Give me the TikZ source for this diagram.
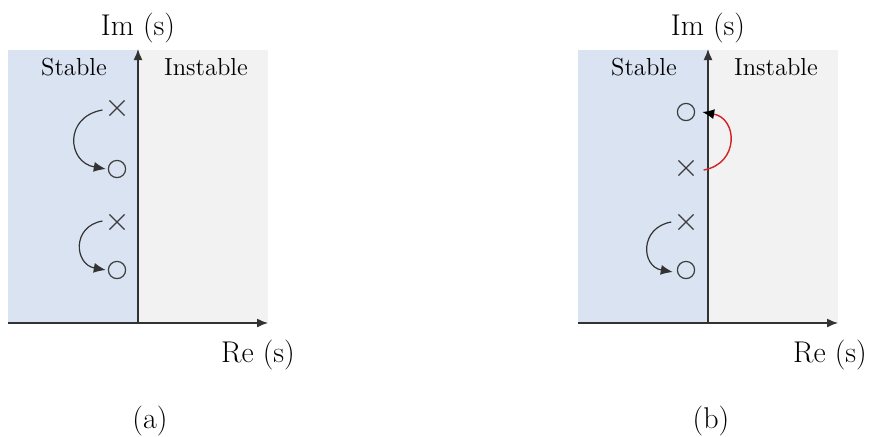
\documentclass[tikz,border=0pt]{standalone}
\usetikzlibrary{arrows.meta,shapes.misc}
\definecolor{stblue}{RGB}{218,227,242}
\definecolor{ungray}{RGB}{242,242,242}
\definecolor{axcol}{RGB}{50,50,50}
\definecolor{arcred}{RGB}{210,35,40}
\definecolor{markcol}{RGB}{60,60,60}
\begin{document}
\begin{tikzpicture}[x=0.5pt,y=-0.5pt,
 axis/.style={draw=axcol,line width=0.7pt,-{Latex[length=5.5pt,width=4.5pt]}},
 pole/.style={cross out,draw=markcol,line width=0.6pt,minimum size=7pt,inner sep=0pt},
 zero/.style={circle,draw=markcol,line width=0.6pt,minimum size=8.6pt,inner sep=0pt},
 move/.style={draw=black!80,line width=0.6pt,-{Latex[length=6pt,width=5pt]}},
 redmove/.style={draw=arcred,line width=0.7pt,-{Latex[length=6pt,width=5pt,color=black]}},
 bigtxt/.style={font=\fontsize{15}{18}\selectfont,inner sep=0pt},
 regtxt/.style={font=\fontsize{12.3}{14}\selectfont,inner sep=0pt}]
\useasboundingbox (0,0) rectangle (874,436);
% ---------- panel (a)
\fill[stblue] (8,50) rectangle (138,323);
\fill[ungray] (138,50) rectangle (268,323);
\coordinate (oA) at (138,323);
\coordinate (lA) at (8,323);
\coordinate (rA) at (268,323);
\coordinate (tA) at (138,49);
\draw[axis] (lA) -- (rA);
\draw[axis] (oA) -- (tA);
\node[bigtxt,anchor=base] (imA) at (138,35) {Im (s)};
\node[bigtxt,anchor=base] (reA) at (258,362) {Re (s)};
\node[regtxt,anchor=base] (stA) at (74,75) {Stable};
\node[regtxt,anchor=base] (inA) at (206,75) {Instable};
\node[bigtxt,anchor=base] (capA) at (150,428) {(a)};
\node[pole] (xa1) at (117,108) {};
\node[zero] (oa1) at (117,169) {};
\node[pole] (xa2) at (117,222) {};
\node[zero] (oa2) at (117,270) {};
\draw[move] ([xshift=-3.5pt,yshift=-1pt]xa1.west) to[out=190,in=170,looseness=1.7] ([xshift=-1pt]oa1.west);
\draw[move] ([xshift=-3.5pt,yshift=0.5pt]xa2.west) to[out=190,in=170,looseness=1.65] ([xshift=-1pt]oa2.west);
% ---------- panel (b)
\fill[stblue] (578,50) rectangle (708,323);
\fill[ungray] (708,50) rectangle (838,323);
\coordinate (oB) at (708,323);
\coordinate (lB) at (578,323);
\coordinate (rB) at (838,323);
\coordinate (tB) at (708,49);
\draw[axis] (lB) -- (rB);
\draw[axis] (oB) -- (tB);
\node[bigtxt,anchor=base] (imB) at (708,35) {Im (s)};
\node[bigtxt,anchor=base] (reB) at (830,362) {Re (s)};
\node[regtxt,anchor=base] (stB) at (644,75) {Stable};
\node[regtxt,anchor=base] (inB) at (776,75) {Instable};
\node[bigtxt,anchor=base] (capB) at (711,428) {(b)};
\node[zero] (ob1) at (686,112) {};
\node[pole] (xb1) at (686,168) {};
\node[pole] (xb2) at (686,222) {};
\node[zero] (ob2) at (686,270) {};
\draw[redmove] ([xshift=5pt,yshift=-1pt]xb1.east) to[out=10,in=-10,looseness=1.6] ([xshift=3.5pt]ob1.east);
\draw[move] ([xshift=-3.6pt]xb2.west) to[out=190,in=170,looseness=1.65] ([xshift=-2pt,yshift=-1pt]ob2.west);
\end{tikzpicture}
\end{document}
